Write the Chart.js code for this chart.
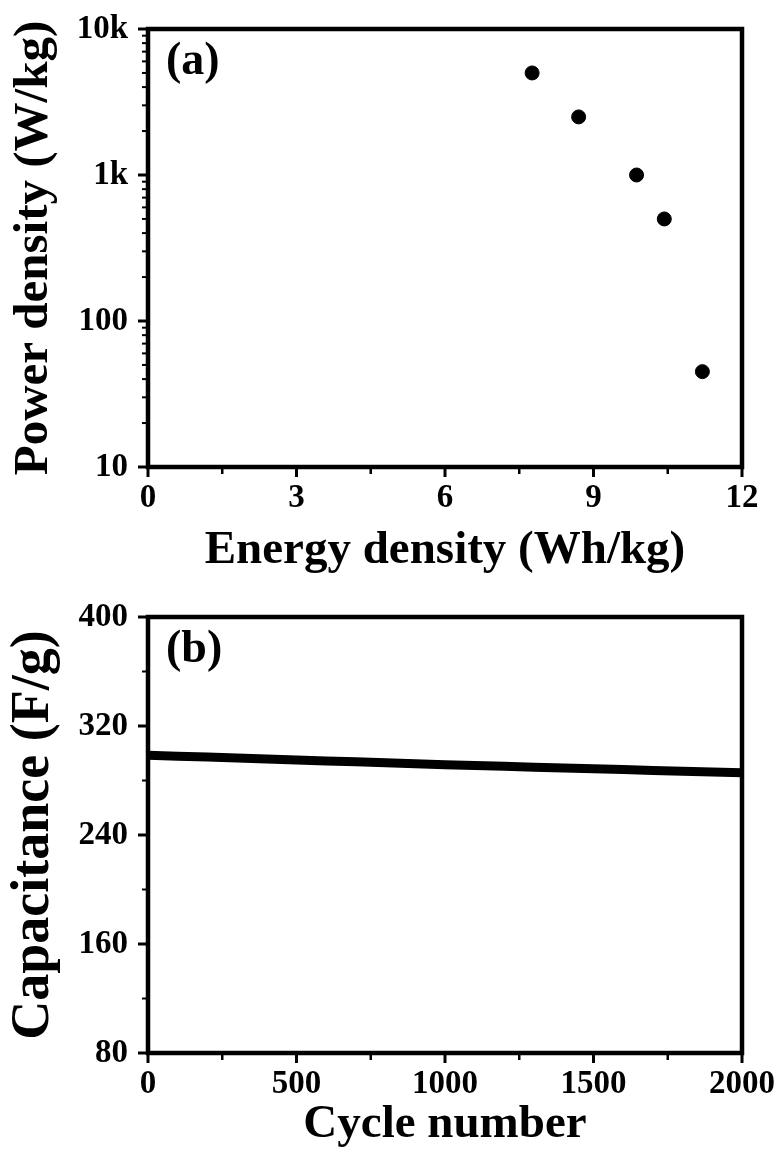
<!DOCTYPE html>
<html>
<head>
<meta charset="utf-8">
<script src="https://cdn.jsdelivr.net/npm/chart.js@4.4.1/dist/chart.umd.min.js"></script>
<style>
  body { margin: 0; background: #fff; }
  #wrap { position: relative; width: 780px; height: 1160px; }
  canvas { position: absolute; left: 0; }
</style>
</head>
<body>
<div id="wrap">
  <canvas id="chartA" width="780" height="585" style="top:0"></canvas>
  <canvas id="chartB" width="780" height="575" style="top:585px"></canvas>
</div>
<script>
// (a) Ragone plot
var energyDensity = [7.76, 8.70, 9.87, 10.43, 11.20];
var powerDensity = [5000, 2500, 1000, 500, 45];

var xMajorA = [0, 3, 6, 9, 12];
var xMinorA = [1.5, 4.5, 7.5, 10.5];
var yMajorA = [10, 100, 1000, 10000];
var yLabelsA = ['10', '100', '1k', '10k'];
var yMinorA = [20, 30, 40, 50, 60, 70, 80, 90, 200, 300, 400, 500, 600, 700, 800, 900,
               2000, 3000, 4000, 5000, 6000, 7000, 8000, 9000];

// (b) cycling stability
var cycles = [0, 100, 200, 300, 400, 500, 600, 700, 800, 900, 1000,
              1100, 1200, 1300, 1400, 1500, 1600, 1700, 1800, 1900, 2000];
var capacitance = [298.5, 297.8, 297.2, 296.5, 295.8, 295.1, 294.4, 293.7, 293.0, 292.3, 291.6,
                   291.0, 290.4, 289.8, 289.2, 288.6, 288.0, 287.4, 286.8, 286.2, 285.6];

var xMajorB = [0, 500, 1000, 1500, 2000];
var xMinorB = [250, 750, 1250, 1750];
var yMajorB = [80, 160, 240, 320, 400];
var yMinorB = [120, 200, 280, 360];

var serif = "'Liberation Serif', 'Times New Roman', serif";
var tickFont = { family: serif, size: 33, weight: 'bold' };
var titleFont = { family: serif, size: 47, weight: 'bold', lineHeight: 1.2 };

// box frame, outward tick marks and the panel letter
var frameTicks = {
  id: 'frameTicks',
  afterDraw: function(chart, args, opts) {
    var ctx = chart.ctx;
    var a = chart.chartArea;
    var xs = chart.scales.x, ys = chart.scales.y;
    ctx.save();
    ctx.strokeStyle = '#000';
    ctx.lineWidth = 4.5;
    ctx.strokeRect(a.left, a.top, a.right - a.left, a.bottom - a.top);

    function markX(list, len, w) {
      ctx.lineWidth = w;
      list.forEach(function(v) {
        var px = xs.getPixelForValue(v);
        ctx.beginPath();
        ctx.moveTo(px, a.bottom);
        ctx.lineTo(px, a.bottom + len);
        ctx.stroke();
      });
    }
    function markY(list, len, w) {
      ctx.lineWidth = w;
      list.forEach(function(v) {
        var py = ys.getPixelForValue(v);
        ctx.beginPath();
        ctx.moveTo(a.left, py);
        ctx.lineTo(a.left - len, py);
        ctx.stroke();
      });
    }
    markX(opts.xMajor, 10, 3);
    markX(opts.xMinor, 7, 2.5);
    markY(opts.yMajor, 10, 3);
    markY(opts.yMinor, 6, 2);

    ctx.fillStyle = '#000';
    ctx.font = 'bold 46px ' + serif;
    ctx.textAlign = 'left';
    ctx.textBaseline = 'middle';
    ctx.fillText(opts.label, a.left + 18, a.top + 33);
    ctx.restore();
  }
};

function setTicks(values) {
  return function(scale) {
    scale.ticks = values.map(function(v) { return { value: v }; });
  };
}

// labels are pushed off the axes through the (hidden) tick length instead of
// ticks.padding, so the label padding does not shrink the plot area
var yGrid = { display: false, drawTicks: true, tickLength: 20 };
var xGrid = { display: false, drawTicks: true, tickLength: 12 };

new Chart(document.getElementById('chartA'), {
  type: 'scatter',
  data: {
    datasets: [{
      data: energyDensity.map(function(e, i) { return { x: e, y: powerDensity[i] }; }),
      backgroundColor: '#000',
      borderColor: '#000',
      pointRadius: 7,
      pointHoverRadius: 7
    }]
  },
  options: {
    responsive: false,
    animation: false,
    devicePixelRatio: 1,
    layout: { padding: { top: 29, right: 38, left: 0, bottom: 0 } },
    plugins: {
      legend: { display: false },
      tooltip: { enabled: false },
      frameTicks: { label: '(a)', xMajor: xMajorA, xMinor: xMinorA, yMajor: yMajorA, yMinor: yMinorA }
    },
    scales: {
      x: {
        type: 'linear', min: 0, max: 12,
        grid: xGrid,
        border: { display: false },
        afterBuildTicks: setTicks(xMajorA),
        afterFit: function(scale) { scale.height = 118; },
        ticks: { font: tickFont, color: '#000', padding: 0, maxRotation: 0,
                 callback: function(v) { return String(v); } },
        title: { display: true, text: 'Energy density (Wh/kg)', font: titleFont, color: '#000', padding: { bottom: 6 } }
      },
      y: {
        type: 'logarithmic', min: 10, max: 10000,
        grid: yGrid,
        border: { display: false },
        afterBuildTicks: setTicks(yMajorA),
        afterFit: function(scale) { scale.width = 148; },
        ticks: {
          font: tickFont, color: '#000', padding: 0,
          callback: function(v, i) { return yLabelsA[i]; }
        },
        title: { display: true, text: 'Power density (W/kg)', color: '#000',
                 font: { family: serif, size: 49, weight: 'bold', lineHeight: 1.2 }, padding: { top: 5 } }
      }
    }
  },
  plugins: [frameTicks]
});

new Chart(document.getElementById('chartB'), {
  type: 'line',
  data: {
    datasets: [{
      data: cycles.map(function(c, i) { return { x: c, y: capacitance[i] }; }),
      borderColor: '#000',
      borderWidth: 9,
      pointRadius: 0,
      tension: 0
    }]
  },
  options: {
    responsive: false,
    animation: false,
    devicePixelRatio: 1,
    layout: { padding: { top: 32, right: 38, left: 0, bottom: 0 } },
    plugins: {
      legend: { display: false },
      tooltip: { enabled: false },
      frameTicks: { label: '(b)', xMajor: xMajorB, xMinor: xMinorB, yMajor: yMajorB, yMinor: yMinorB }
    },
    scales: {
      x: {
        type: 'linear', min: 0, max: 2000,
        grid: xGrid,
        border: { display: false },
        afterBuildTicks: setTicks(xMajorB),
        afterFit: function(scale) { scale.height = 107; },
        ticks: { font: tickFont, color: '#000', padding: 0, maxRotation: 0,
                 callback: function(v) { return String(v); } },
        title: { display: true, text: 'Cycle number', font: titleFont, color: '#000', padding: { bottom: 7 } }
      },
      y: {
        type: 'linear', min: 80, max: 400,
        grid: yGrid,
        border: { display: false },
        afterBuildTicks: setTicks(yMajorB),
        afterFit: function(scale) { scale.width = 148; },
        ticks: { font: tickFont, color: '#000', padding: 0,
                 callback: function(v) { return String(v); } },
        title: { display: true, text: 'Capacitance (F/g)', color: '#000',
                 font: { family: serif, size: 54, weight: 'bold', lineHeight: 1.2 }, padding: { top: 2 } }
      }
    }
  },
  plugins: [frameTicks]
});
</script>
</body>
</html>
